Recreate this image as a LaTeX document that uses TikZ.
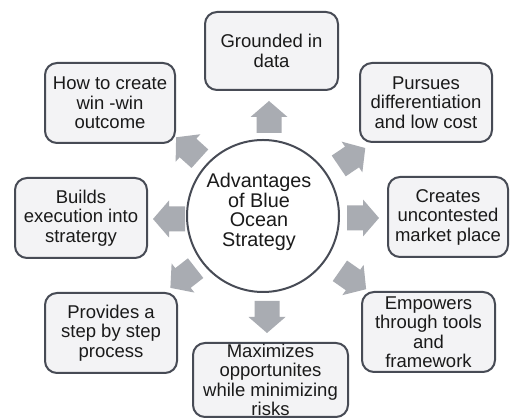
\documentclass[tikz,border=0pt]{standalone}
\usepackage{fontspec}
\setmainfont{Liberation Sans}
\definecolor{bordc}{HTML}{474B55}
\definecolor{boxfill}{HTML}{F3F3F5}
\definecolor{arrc}{HTML}{A9ACB2}
\definecolor{txtc}{HTML}{1A1A1A}
\tikzset{
  infobox/.style={draw=bordc, line width=2pt, fill=boxfill, rounded corners=12pt,
    align=center, text=txtc, inner sep=0pt,
    font=\fontsize{18.5}{19.5}\selectfont},
  hub/.style={circle, draw=bordc, line width=2pt, fill=white, minimum size=152pt, inner sep=0pt},
  blockarr/.style={fill=arrc, draw=none}
}
\newcommand{\blockarrow}[4]{% name, x, y, angle
  \begin{scope}[shift={(#2,#3)}, rotate=#4]
    \fill[blockarr] (-16,-12.5) -- (0,-12.5) -- (0,-18.5) -- (16,0) -- (0,18.5) -- (0,12.5) -- (-16,12.5) -- cycle;
    \coordinate (#1) at (0,0);
  \end{scope}}
\begin{document}
\begin{tikzpicture}[x=1pt,y=1pt]
\useasboundingbox (0,0) rectangle (519,419);
\fill[white] (0,0) rectangle (519,419);

\node[hub] (hub) at (263,203) {};
\node[align=center, text=txtc, font=\fontsize{19.8}{19.7}\selectfont] (hubtext) at (259,207)
  {Advantages\\of Blue\\Ocean\\Strategy};

\node[infobox, minimum width=133pt, minimum height=78pt] (b1) at (271.5,368) {Grounded in\\data};
\node[infobox, minimum width=130pt, minimum height=80pt] (b2) at (110,316) {How to create\\win -win\\outcome};
\node[infobox, minimum width=132pt, minimum height=79pt] (b3) at (426,316.5) {Pursues\\differentiation\\and low cost};
\node[infobox, minimum width=132pt, minimum height=80pt] (b4) at (81,201) {Builds\\execution into\\stratergy};
\node[infobox, minimum width=120pt, minimum height=80pt] (b5) at (448,202) {Creates\\uncontested\\market place};
\node[infobox, minimum width=132pt, minimum height=80pt] (b6) at (111,86) {Provides a\\step by step\\process};
\node[infobox, minimum width=133pt, minimum height=80pt] (b7) at (428.5,87) {Empowers\\through tools\\and\\framework};
\node[infobox, minimum width=155pt, minimum height=74pt] (b8) at (270.5,39) {Maximizes\\opportunites\\while minimizing\\risks};

\blockarrow{a1}{269}{302}{90}
\blockarrow{a8}{267}{102}{-90}
\blockarrow{a4}{169}{200}{180}
\blockarrow{a5}{363}{201}{0}
\blockarrow{a2}{188}{271}{138}
\blockarrow{a3}{352}{262}{34}
\blockarrow{a6}{183}{141}{218}
\blockarrow{a7}{353}{139}{-35}
\end{tikzpicture}
\end{document}
